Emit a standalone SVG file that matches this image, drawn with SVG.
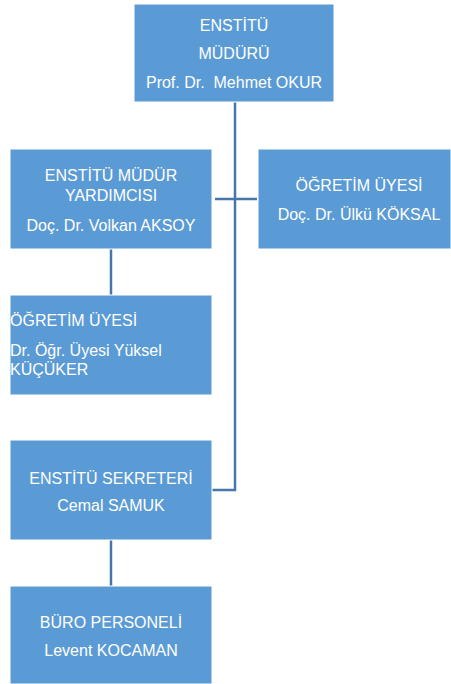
<svg xmlns="http://www.w3.org/2000/svg" width="451" height="684" viewBox="0 0 451 684">
<style>
.box{fill:#5B9BD5;stroke:#ffffff;stroke-width:1}
.t{font-family:"Liberation Sans",Arial,sans-serif;font-size:16px;fill:#ffffff;text-anchor:middle}
.l{text-anchor:start}
.c{stroke:#4677A8;stroke-width:2.5;fill:none}
</style>
<rect width="451" height="684" fill="#ffffff"/>
<g id="connectors">
<path class="c" d="M235,102 V490 H212"/>
<path class="c" d="M215,199 H257"/>
<path class="c" d="M111,249 V295"/>
<path class="c" d="M111,540 V586"/>
</g>
<g id="n1"><rect class="box" x="134" y="4" width="200" height="98"/>
<text class="t" x="234" y="31">ENSTİTÜ</text><text class="t" x="234" y="59">MÜDÜRÜ</text><text class="t" x="234" y="88" xml:space="preserve">Prof. Dr.  Mehmet OKUR</text></g>
<g id="n2"><rect class="box" x="10" y="149" width="202" height="100"/>
<text class="t" x="111" y="181">ENSTİTÜ MÜDÜR</text><text class="t" x="111" y="201">YARDIMCISI</text><text class="t" x="111" y="231">Doç. Dr. Volkan AKSOY</text></g>
<g id="n3"><rect class="box" x="258" y="149" width="193" height="100"/>
<text class="t" x="359" y="191">ÖĞRETİM ÜYESİ</text><text class="t" x="359" y="220">Doç. Dr. Ülkü KÖKSAL</text></g>
<g id="n4"><rect class="box" x="10" y="295" width="202" height="100"/>
<text class="t l" x="10" y="326">ÖĞRETİM ÜYESİ</text><text class="t l" x="10" y="356">Dr. Öğr. Üyesi Yüksel</text><text class="t l" x="10" y="375">KÜÇÜKER</text></g>
<g id="n5"><rect class="box" x="10" y="440" width="202" height="100"/>
<text class="t" x="111" y="484">ENSTİTÜ SEKRETERİ</text><text class="t" x="111" y="511">Cemal SAMUK</text></g>
<g id="n6"><rect class="box" x="10" y="586" width="202" height="98"/>
<text class="t" x="111" y="628">BÜRO PERSONELİ</text><text class="t" x="111" y="656">Levent KOCAMAN</text></g>
</svg>
